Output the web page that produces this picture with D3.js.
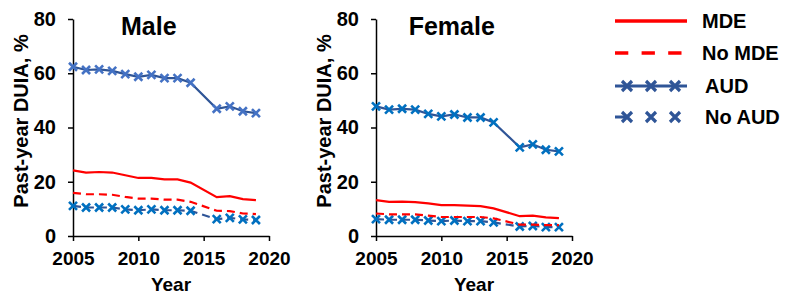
<!DOCTYPE html>
<head>
  <meta charset="utf-8">
  <script src="https://d3js.org/d3.v7.min.js"></script>
  <style>
    body { margin: 0; background: #fff; }
    text { font-family: "Liberation Sans", Arial, sans-serif; font-weight: bold; fill: #000; }
  </style>
</head>
<body>
<svg width="785" height="294"></svg>
<script>
// Data (2015 not reported, lines join 2014 to 2016)
var years = [2005, 2006, 2007, 2008, 2009, 2010, 2011, 2012, 2013, 2014, 2016, 2017, 2018, 2019];
var maleMDE    = [24.2, 23.4, 23.6, 23.4, 22.4, 21.4, 21.4, 20.9, 20.9, 19.7, 14.3, 14.7, 13.6, 13.2];
var maleNoMDE  = [15.9, 15.4, 15.4, 15.2, 14.4, 13.8, 13.8, 13.4, 13.4, 12.6, 9.3, 9.2, 8.3, 8.1];
var maleAUD    = [62.4, 61.2, 61.4, 60.9, 59.7, 58.7, 59.4, 58.2, 58.2, 56.5, 46.9, 47.8, 46.0, 45.3];
var maleNoAUD  = [11.1, 10.5, 10.5, 10.5, 9.8, 9.5, 9.8, 9.5, 9.5, 9.3, 6.2, 6.7, 6.1, 5.9];
var femaleMDE   = [13.2, 12.6, 12.7, 12.5, 12.0, 11.4, 11.4, 11.2, 11.0, 10.2, 7.3, 7.5, 6.9, 6.6];
var femaleNoMDE = [8.3, 8.0, 8.0, 8.0, 7.5, 7.0, 7.0, 7.0, 7.0, 6.5, 4.2, 4.2, 4.0, 4.0];
var femaleAUD   = [47.8, 46.6, 46.9, 46.6, 45.0, 44.1, 44.8, 43.7, 43.7, 41.9, 32.7, 33.8, 31.8, 31.2];
var femaleNoAUD = [6.2, 6.0, 6.0, 6.0, 5.7, 5.5, 5.7, 5.5, 5.5, 5.0, 3.5, 3.7, 3.3, 3.3];
var xTicks = [2005, 2010, 2015, 2020];
var yTicks = [0, 20, 40, 60, 80];
var legendLabels = ["MDE", "No MDE", "AUD", "No AUD"];

var red = "#ff0000", navy = "#2f5597", blue = "#4472c4", brightBlue = "#0070c0";

var svg = d3.select("svg");

function cross(g, x, y, color, s, w) {
  g.append("path")
    .attr("d", "M" + (x - s) + "," + (y - s) + "L" + (x + s) + "," + (y + s) +
               "M" + (x - s) + "," + (y + s) + "L" + (x + s) + "," + (y - s))
    .attr("stroke", color).attr("stroke-width", w).attr("fill", "none");
}

function panel(left, title, mde, noMde, aud, noAud, audMarker) {
  var x = d3.scaleLinear().domain([2005, 2020]).range([left, left + 196]);
  var y = d3.scaleLinear().domain([0, 80]).range([236, 19]);
  var g = svg.append("g");

  g.append("g").attr("transform", "translate(0,236)")
    .call(d3.axisBottom(x).tickValues(xTicks).tickFormat(d3.format("d")).tickSize(5).tickSizeOuter(0))
    .call(function (a) {
      a.select(".domain").attr("stroke-width", 1.5);
      a.selectAll("line").attr("stroke-width", 1.5);
      a.selectAll("text").style("font-size", "19px").attr("dy", "1.1em");
    });
  g.append("g").attr("transform", "translate(" + left + ",0)")
    .call(d3.axisLeft(y).tickValues(yTicks).tickSize(5).tickSizeOuter(0))
    .call(function (a) {
      a.select(".domain").attr("stroke-width", 1.5);
      a.selectAll("line").attr("stroke-width", 1.5);
      a.selectAll("text").style("font-size", "20px").attr("x", -17);
    });

  g.append("text").attr("x", x(2010.8)).attr("y", 35).attr("text-anchor", "middle")
    .style("font-size", "25px").text(title);
  g.append("text").attr("x", x(2012.5)).attr("y", 291).attr("text-anchor", "middle")
    .style("font-size", "19px").text("Year");
  g.append("text").attr("transform", "translate(" + (left - 45) + ",121) rotate(-90)")
    .attr("text-anchor", "middle").style("font-size", "20px").text("Past-year DUIA, %");

  var line = function (vals) {
    return d3.line().x(function (d, i) { return x(years[i]); }).y(function (d) { return y(d); })(vals);
  };

  g.append("path").attr("d", line(noAud)).attr("fill", "none").attr("stroke", navy)
    .attr("stroke-width", 2.2).attr("stroke-dasharray", "8,5");
  noAud.forEach(function (d, i) { cross(g, x(years[i]), y(d), brightBlue, 4, 2.6); });

  g.append("path").attr("d", line(noMde)).attr("fill", "none").attr("stroke", red)
    .attr("stroke-width", 2.2).attr("stroke-dasharray", "8,5");
  g.append("path").attr("d", line(mde)).attr("fill", "none").attr("stroke", red)
    .attr("stroke-width", 2.2);

  g.append("path").attr("d", line(aud)).attr("fill", "none").attr("stroke", navy)
    .attr("stroke-width", 2.2);
  aud.forEach(function (d, i) { cross(g, x(years[i]), y(d), audMarker, 4, 2.6); });
}

panel(73, "Male", maleMDE, maleNoMDE, maleAUD, maleNoAUD, blue);
panel(376, "Female", femaleMDE, femaleNoMDE, femaleAUD, femaleNoAUD, brightBlue);

// Legend
var leg = svg.append("g");
var rowY = [21, 53, 86, 117];
legendLabels.forEach(function (lab, i) {
  var yy = rowY[i];
  if (i < 2) {
    leg.append("line").attr("x1", 615).attr("x2", 687).attr("y1", yy).attr("y2", yy)
      .attr("stroke", red).attr("stroke-width", 3.5)
      .attr("stroke-dasharray", i === 1 ? "13.3,13.3" : null);
  } else {
    leg.append("line").attr("x1", 615).attr("x2", i === 3 ? 627 : 687).attr("y1", yy).attr("y2", yy)
      .attr("stroke", navy).attr("stroke-width", 3);
    [627, 651, 675].forEach(function (cx) { cross(leg, cx, yy, navy, 5, 3.2); });
  }
  leg.append("text").attr("x", i < 2 ? 702 : 705).attr("y", yy + 7)
    .style("font-size", "20px").text(lab);
});
</script>
</body>
</html>
